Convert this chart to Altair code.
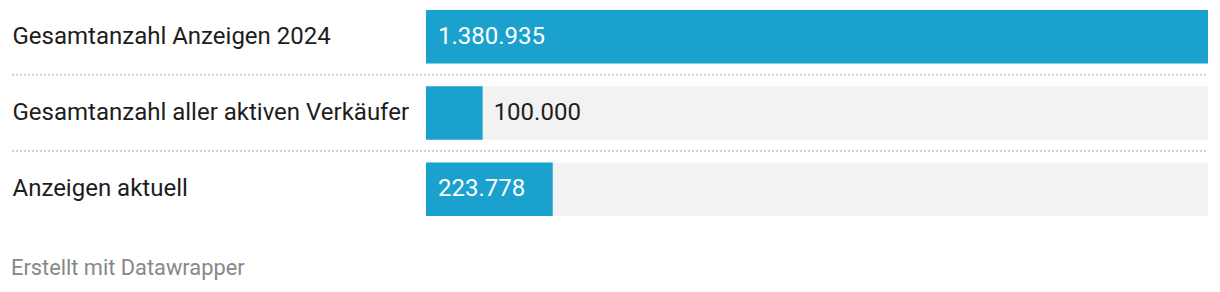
import altair as alt
import pandas as pd

categories = ["Gesamtanzahl Anzeigen 2024", "Gesamtanzahl aller aktiven Verkäufer", "Anzeigen aktuell"]
values = [1380935, 100000, 223778]
labels = [f"{v:,}".replace(",", ".") for v in values]
max_value = max(values)

df = pd.DataFrame({
    "category": categories,
    "value": values,
    "label": labels,
    "full": [max_value] * len(values),
})
df["inside"] = df["value"] > max_value * 0.12

sep_df = pd.DataFrame({"category": categories[:-1]})

FONT = "Roboto"
BLUE = "#1aa1cd"
FS = 24

yscale = alt.Scale(domain=categories, paddingInner=0.3, paddingOuter=0)
xscale = alt.Scale(domain=[0, max_value], nice=False, zero=True)

base = alt.Chart(df)

y_axis = alt.Axis(
    title=None, labelAlign="left", labelPadding=414, labelFontSize=FS,
    labelFont=FONT, labelColor="#1d1d1d", ticks=False, domain=False,
    labelLimit=600, grid=False,
)

bg = base.mark_bar(color="#f2f2f2", cornerRadius=0).encode(
    y=alt.Y("category:N", scale=yscale, axis=y_axis, sort=categories),
    x=alt.X("full:Q", scale=xscale, axis=None),
)

bars = base.mark_bar(color=BLUE, cornerRadius=0).encode(
    y=alt.Y("category:N", scale=yscale, sort=categories),
    x=alt.X("value:Q", scale=xscale),
)

inside_text = base.transform_filter("datum.inside").transform_calculate(zero="0").mark_text(
    align="left", baseline="middle", dx=12, fontSize=FS, font=FONT, color="white"
).encode(
    y=alt.Y("category:N", scale=yscale, sort=categories),
    x=alt.X("zero:Q", scale=xscale),
    text="label:N",
)

outside_text = base.transform_filter("!datum.inside").mark_text(
    align="left", baseline="middle", dx=11, fontSize=FS, font=FONT, color="#1d1d1d"
).encode(
    y=alt.Y("category:N", scale=yscale, sort=categories),
    x=alt.X("value:Q", scale=xscale),
    text="label:N",
)

seps = alt.Chart(sep_df).mark_rule(
    color="#d0d0d0", strokeDash=[2, 2], strokeWidth=2, yOffset=11.4
).encode(
    y=alt.Y("category:N", scale=yscale, sort=categories, bandPosition=1),
    x=alt.value(-414),
    x2=alt.value(782),
)

chart = alt.layer(bg, bars, seps, inside_text, outside_text).properties(
    width=782,
    height=206,
    background="white",
    autosize=alt.AutoSizeParams(type="none"),
    padding={"left": 426, "top": 10, "right": 12, "bottom": 76},
    title=alt.TitleParams(
        "Erstellt mit Datawrapper", orient="bottom", anchor="start", frame="bounds",
        fontSize=21.8, font=FONT, fontWeight="normal", color="#888888",
        baseline="alphabetic", offset=59,
    ),
).configure_view(stroke=None)

chart.save("out.html", embed_options={"renderer": "svg", "actions": False})
